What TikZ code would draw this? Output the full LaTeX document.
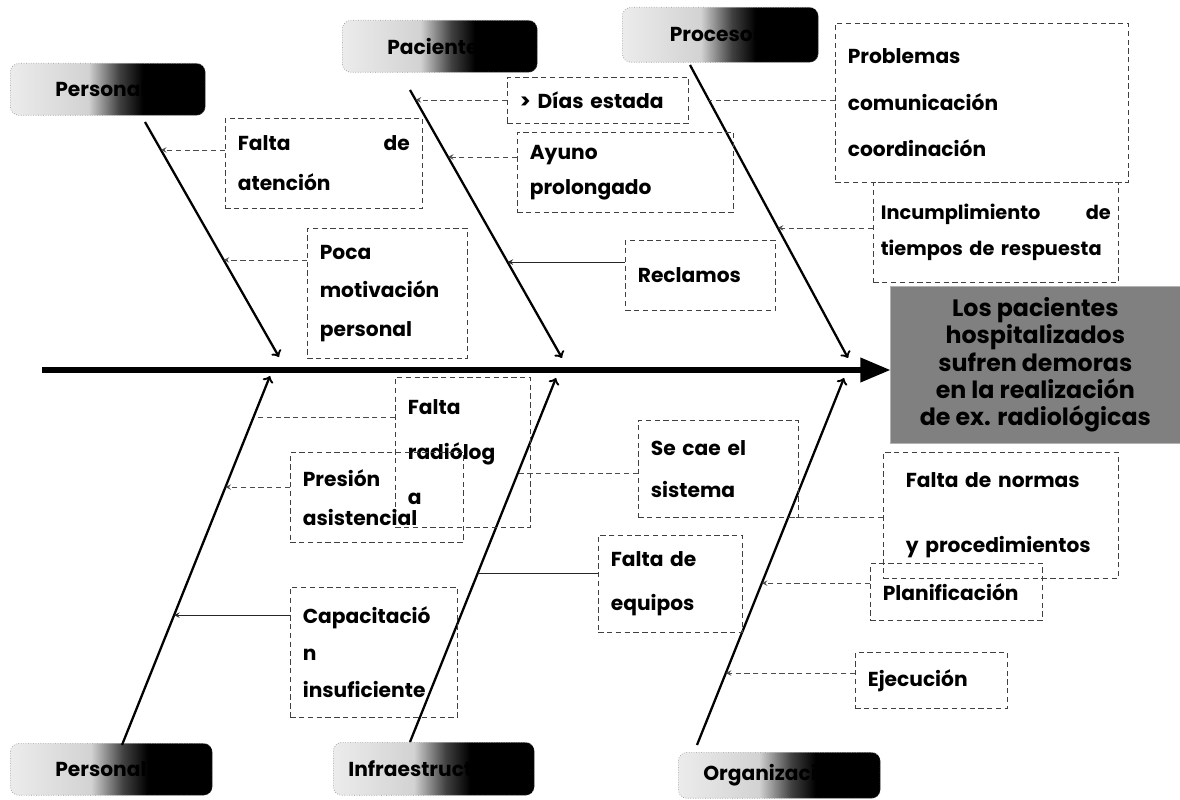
\documentclass[tikz,border=0pt]{standalone}
\usepackage{fontspec}
\setmainfont{Poppins}
\usetikzlibrary{arrows, calc, positioning}
\pgfdeclarehorizontalshading{catshade}{100bp}{color(0bp)=(gray!15); color(25bp)=(gray!15); color(45bp)=(gray!35); color(53bp)=(black!75); color(59bp)=(black); color(100bp)=(black)}

\begin{document}
\begin{tikzpicture}[
    x=0.02cm, y=-0.02cm,
    catbox/.style={rectangle, rounded corners=5pt, draw=gray!80, densely dotted, shade, shading=catshade, anchor=north west, minimum height=1.04cm, inner xsep=0.9cm, align=left, font=\bfseries\fontsize{11.5}{13}\selectfont},
    causebox/.style={rectangle, draw=black!75, densely dashed, thin, anchor=north west, inner xsep=0.25cm, align=left, font=\bfseries\fontsize{11.5}{22}\selectfont},
    effectbox/.style={rectangle, fill=black!50, draw=gray!60, anchor=north west, minimum width=5.8cm, minimum height=3.14cm, align=center, font=\bfseries\fontsize{13.5}{15.5}\selectfont},
    bone/.style={->, line width=1.3pt},
    spine/.style={-triangle 45, line width=3pt},
    link/.style={-stealth, densely dashed, thin, black!70},
    linksolid/.style={-stealth, thin, black!85}
  ]
    \useasboundingbox (0,0) rectangle (1180,800);

    % Category labels
    \node[catbox, text width=2.1cm] (pers1) at (10,63) {Personal};
    \node[catbox, text width=2.1cm] (pac) at (342,20) {Paciente};
    \node[catbox, text width=2.02cm, inner xsep=0.95cm, minimum height=1.1cm] (proc) at (622,7) {Procesos};
    \node[catbox, text width=2.24cm] (pers2) at (10,743) {Personal};
    \node[catbox, text width=3.42cm, inner xsep=0.3cm, minimum height=1.06cm] (infra) at (333,742) {Infraestructura};
    \node[catbox, text width=3.04cm, inner xsep=0.5cm, minimum height=0.92cm] (organ) at (678,752) {Organización};

    % Effect
    \node[effectbox] (effect) at (890,286) {Los pacientes\\hospitalizados\\sufren demoras\\en la realización\\de ex. radiológicas};

    % Spine
    \coordinate (sp) at (42,370);
    \draw[spine] (sp) -- (sp -| effect.west);

    % Bones
    \coordinate (b1s) at (145,122);  \coordinate (t1) at (279,357);
    \coordinate (b2s) at (410,90);   \coordinate (t2) at (562,358);
    \coordinate (b3s) at (690,65);   \coordinate (t3) at (848,358);
    \coordinate (b4s) at (122,745);  \coordinate (t4) at (270,376);
    \coordinate (b5s) at (410,742);  \coordinate (t5) at (556,378);
    \coordinate (b6s) at (697,745);  \coordinate (t6) at (844,378);
    \draw[bone] (b1s) -- (t1);
    \draw[bone] (b2s) -- (t2);
    \draw[bone] (b3s) -- (t3);
    \draw[bone] (b4s) -- (t4);
    \draw[bone] (b5s) -- (t5);
    \draw[bone] (b6s) -- (t6);

    % Points on the bones
    \path (b1s) -- (t1) coordinate[pos=0.119] (p1a) coordinate[pos=0.587] (p1b);
    \path (b2s) -- (t2) coordinate[pos=0.037] (p2a) coordinate[pos=0.25] (p2b) coordinate[pos=0.642] (p2c);
    \path (b3s) -- (t3) coordinate[pos=0.119] (p3a) coordinate[pos=0.556] (p3b);
    \path (b4s) -- (t4) coordinate[pos=0.889] (p4a) coordinate[pos=0.699] (p4b) coordinate[pos=0.352] (p4c);
    \path (b5s) -- (t5) coordinate[pos=0.739] (p5a) coordinate[pos=0.464] (p5b);
    \path (b6s) -- (t6) coordinate[pos=0.621] (p6a) coordinate[pos=0.441] (p6b) coordinate[pos=0.196] (p6c);

    % Top causes
    \node[causebox, text width=3.44cm, minimum height=1.8cm, font=\bfseries\fontsize{11.5}{23}\selectfont] (fatenc) at (225,118) {Falta\hspace{\fill}de\\atención};
    \node[causebox, text width=2.7cm, minimum height=2.6cm] (poca) at (307,228) {Poca\\motivación\\personal};
    \node[causebox, text width=3.12cm, minimum height=0.92cm] (dias) at (507,77) {>~Días estada};
    \node[causebox, text width=3.82cm, minimum height=1.6cm, font=\bfseries\fontsize{11.5}{20}\selectfont] (ayuno) at (517,132) {Ayuno\\prolongado};
    \node[causebox, text width=2.5cm, minimum height=1.4cm] (recl) at (625,240) {Reclamos};
    \node[causebox, text width=5.36cm, minimum height=3.18cm, font=\bfseries\fontsize{11.5}{26.5}\selectfont] (probl) at (835,23) {Problemas\\comunicación\\coordinación};
    \node[causebox, text width=4.6cm, inner xsep=0.15cm, minimum height=2cm, font=\bfseries\fontsize{11}{21}\selectfont] (incum) at (873,182) {Incumplimiento\hspace{\fill}de\\tiempos\ de\ respuesta};

    % Bottom causes
    \node[causebox, text width=2.2cm, minimum height=3cm, font=\bfseries\fontsize{11.5}{25.5}\selectfont] (fradio) at (395,377) {Falta\\radiólog\\a};
    \node[causebox, text width=2.96cm, minimum height=1.8cm] (presion) at (290,452) {Presión\\asistencial};
    \node[causebox, text width=2.84cm, minimum height=2.6cm, font=\bfseries\fontsize{11.5}{21}\selectfont] (capac) at (290,587) {Capacitació\\n\\insuficiente};
    \node[causebox, text width=2.7cm, minimum height=1.94cm, font=\bfseries\fontsize{11.5}{24}\selectfont] (secae) at (638,420) {Se cae el\\sistema};
    \node[causebox, text width=2.38cm, minimum height=1.94cm, font=\bfseries\fontsize{11.5}{25}\selectfont] (fequip) at (598,535) {Falta de\\equipos};
    \node[causebox, text width=3.8cm, inner xsep=0.45cm, minimum height=2.52cm, font=\bfseries\fontsize{11.5}{37}\selectfont] (fnorm) at (883,452) {Falta de normas\\y procedimientos};
    \node[causebox, text width=2.94cm, minimum height=1.14cm] (planif) at (870,563) {Planificación};
    \node[causebox, text width=2.54cm, minimum height=1.12cm] (ejec) at (855,652) {Ejecución};

    % Links to the bones
    \draw[link] (p1a -| fatenc.west) -- (p1a);
    \draw[link] (p1b -| poca.west) -- (p1b);
    \draw[link] (p2a -| dias.west) -- (p2a);
    \draw[link] (p2b -| ayuno.west) -- (p2b);
    \draw[linksolid] (p2c -| recl.west) -- (p2c);
    \draw[link, -] (p3a -| probl.west) -- (p3a);
    \draw[link] (p3b -| incum.west) -- (p3b);
    \draw[link, -] (p4a -| fradio.west) -- (p4a);
    \draw[link] (p4b -| presion.west) -- (p4b);
    \draw[linksolid] (p4c -| capac.west) -- (p4c);
    \draw[link, -] (p5a -| secae.west) -- (p5a);
    \draw[linksolid, -] (p5b -| fequip.west) -- (p5b);
    \draw[link, -] (p6a -| fnorm.west) -- (p6a);
    \draw[link] (p6b -| planif.west) -- (p6b);
    \draw[link] (p6c -| ejec.west) -- (p6c);
  \end{tikzpicture}
\end{document}
